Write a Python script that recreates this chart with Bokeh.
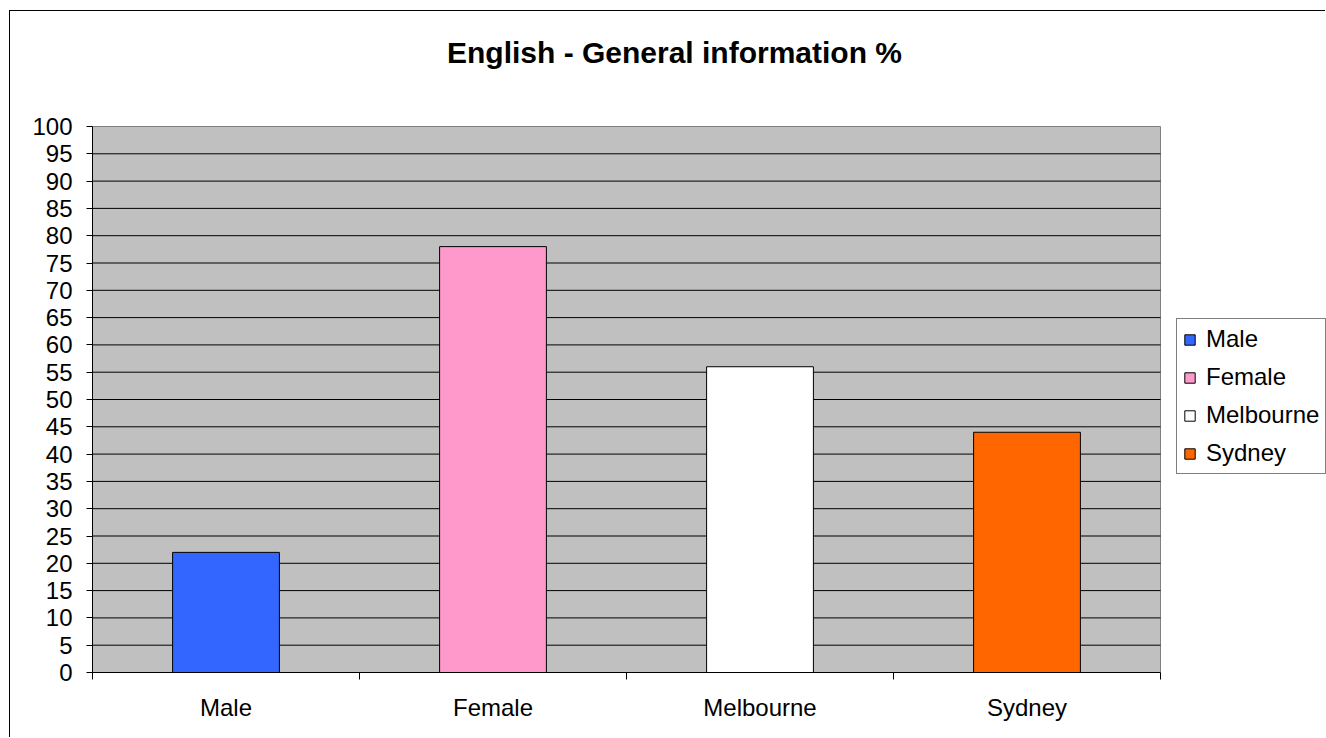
from bokeh.plotting import figure
from bokeh.models import ColumnDataSource, FixedTicker, Range1d, Legend, LegendItem, Label
from bokeh.embed import file_html
from bokeh.resources import INLINE

title_text = "English - General information %"
categories = ["Male", "Female", "Melbourne", "Sydney"]
values = [22, 78, 56, 44]
colors = ["#3366FF", "#FF99CC", "#FFFFFF", "#FF6600"]
y_ticks = list(range(0, 101, 5))

FONT = "Liberation Sans"

# layout (pixels, in canvas coordinates)
W, H = 1316, 727
LEFT = 82            # frame left
BOTTOM_PAD = 66      # space below the value axis
PLOT_W = 1068        # width of the grey plotting area
PLOT_H = 546         # height of the grey plotting area
FRAME_W = W - LEFT
FRAME_H = H - BOTTOM_PAD

n = len(categories)
x_max = n * FRAME_W / PLOT_W
y_max = 100 * FRAME_H / PLOT_H

xs = [i + 0.5 for i in range(n)]

p = figure(width=W, height=H, output_backend="svg", toolbar_location=None,
           x_range=Range1d(0, x_max), y_range=Range1d(0, y_max),
           min_border_left=LEFT, min_border_right=0, min_border_top=0,
           min_border_bottom=BOTTOM_PAD,
           background_fill_color="white", border_fill_color="white",
           outline_line_color=None,
           styles={"margin-left": "9px", "margin-top": "10px",
                   "border-left": "1px solid black", "border-top": "1px solid black"})

# grey plotting area
p.quad(left=[0], right=[n], bottom=[0], top=[100], fill_color="#C0C0C0",
       line_color="#808080", line_width=1, level="image")

# horizontal gridlines, only across the plotting area
grid_vals = y_ticks[1:-1]
p.segment(x0=[0] * len(grid_vals), x1=[n] * len(grid_vals), y0=grid_vals, y1=grid_vals,
          line_color="black", line_width=1, level="underlay")

items = []
for x, v, c, cat in zip(xs, values, colors, categories):
    src = ColumnDataSource(dict(x=[x], top=[v]))
    r = p.vbar(x="x", top="top", width=0.4, bottom=0, fill_color=c, line_color="black",
               line_width=1, source=src)
    items.append(LegendItem(label=cat, renderers=[r]))

# title
p.add_layout(Label(x=(582 / PLOT_W) * n, y=100 * (FRAME_H - 41) / PLOT_H, text=title_text,
                   text_align="center", text_baseline="middle", text_font=FONT,
                   text_font_size="30px", text_font_style="bold", text_color="black"))

# y axis
p.yaxis.ticker = FixedTicker(ticks=y_ticks)
p.yaxis.bounds = (0, 100)
p.yaxis.major_tick_out = 6
p.yaxis.major_tick_in = 0
p.yaxis.minor_tick_out = 0
p.yaxis.minor_tick_in = 0
p.yaxis.axis_line_color = "black"
p.yaxis.major_tick_line_color = "black"
p.yaxis.major_label_text_font = FONT
p.yaxis.major_label_text_font_size = "24px"
p.yaxis.major_label_text_color = "black"
p.yaxis.major_label_standoff = 14

# x axis: labels at centers, ticks at category boundaries
p.xaxis.ticker = FixedTicker(ticks=xs, minor_ticks=list(range(n + 1)))
p.xaxis.bounds = (0, n)
p.xaxis.major_label_overrides = {x: c for x, c in zip(xs, categories)}
p.xaxis.major_tick_out = 0
p.xaxis.major_tick_in = 0
p.xaxis.minor_tick_out = 7
p.xaxis.minor_tick_in = 0
p.xaxis.minor_tick_line_color = "black"
p.xaxis.axis_line_color = "black"
p.xaxis.major_label_text_font = FONT
p.xaxis.major_label_text_font_size = "24px"
p.xaxis.major_label_text_color = "black"
p.xaxis.major_label_standoff = 14

# built-in grids off (drawn above as segments)
p.xgrid.visible = False
p.ygrid.visible = False

# legend
lg = Legend(items=items, location=(PLOT_W + 16, 198))
lg.margin = 0
lg.padding = 6
lg.spacing = 10
lg.glyph_width = 13
lg.glyph_height = 13
lg.label_height = 24
lg.label_standoff = 10
lg.label_text_font = FONT
lg.label_text_font_size = "24px"
lg.label_text_color = "black"
lg.border_line_color = "black"
lg.border_line_width = 1
lg.background_fill_color = "white"
lg.background_fill_alpha = 1
p.add_layout(lg, "center")

open("out.html", "w").write(file_html(p, INLINE))
